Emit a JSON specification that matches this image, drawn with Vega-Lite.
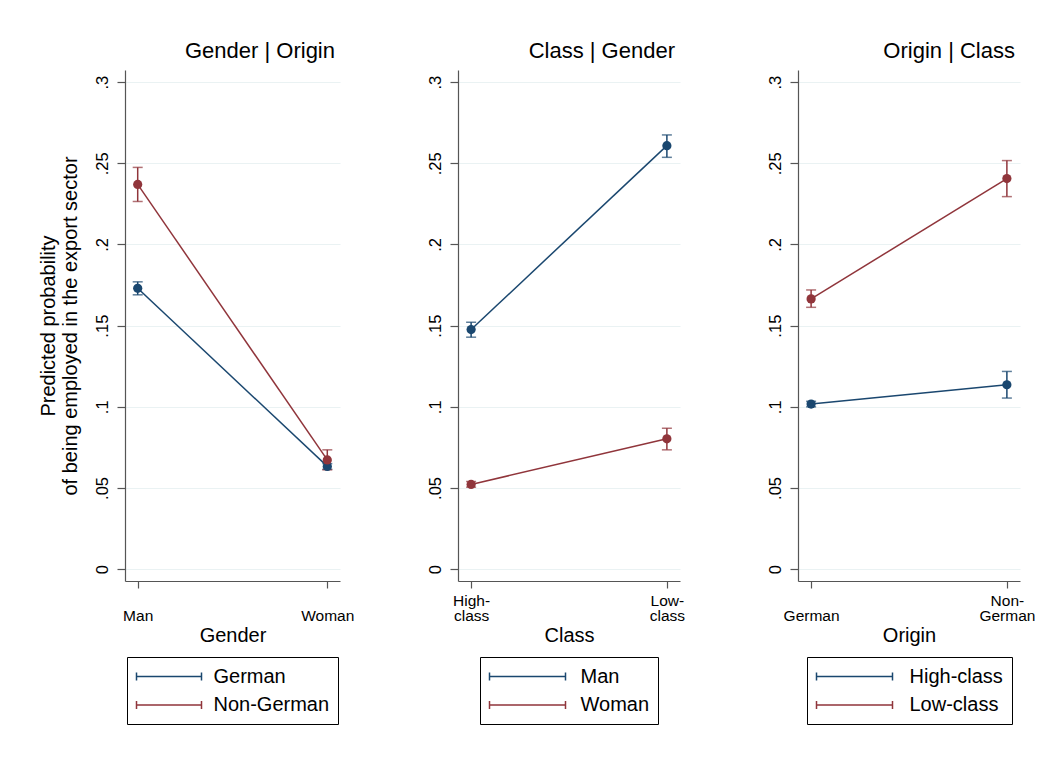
{
  "$schema": "https://vega.github.io/schema/vega-lite/v6.json",
  "background": "white",
  "padding": {"left": 38, "top": 40, "right": 8, "bottom": 8},
  "bounds": "flush",
  "spacing": 118,
  "datasets": {
    "p1": [
      {"x": "Man", "g": "German", "p": 0.173, "lo": 0.169, "hi": 0.177},
      {"x": "Woman", "g": "German", "p": 0.0633, "lo": 0.0615, "hi": 0.065},
      {"x": "Man", "g": "Non-German", "p": 0.237, "lo": 0.2265, "hi": 0.2475},
      {"x": "Woman", "g": "Non-German", "p": 0.0673, "lo": 0.0612, "hi": 0.0735}
    ],
    "p2": [
      {"x": "High-class", "g": "Man", "p": 0.1476, "lo": 0.1429, "hi": 0.1521},
      {"x": "Low-class", "g": "Man", "p": 0.2609, "lo": 0.2537, "hi": 0.2675},
      {"x": "High-class", "g": "Woman", "p": 0.0522, "lo": 0.0505, "hi": 0.054},
      {"x": "Low-class", "g": "Woman", "p": 0.0803, "lo": 0.0735, "hi": 0.0868}
    ],
    "p3": [
      {"x": "German", "g": "High-class", "p": 0.1017, "lo": 0.1, "hi": 0.1034},
      {"x": "Non-German", "g": "High-class", "p": 0.1136, "lo": 0.1054, "hi": 0.1218},
      {"x": "German", "g": "Low-class", "p": 0.1665, "lo": 0.1613, "hi": 0.172},
      {"x": "Non-German", "g": "Low-class", "p": 0.2406, "lo": 0.2295, "hi": 0.2517}
    ]
  },
  "hconcat": [
    {
      "width": 215,
      "height": 511,
      "title": "Gender | Origin",
      "data": {"name": "p1"},
      "encoding": {
        "x": {"field": "x", "type": "nominal", "sort": ["Man", "Woman"], "scale": {"type": "point", "padding": 0.067},
              "axis": {"title": "Gender", "labelExpr": "indexof(datum.label,'-')>0 ? [slice(datum.label,0,indexof(datum.label,'-')+1), slice(datum.label,indexof(datum.label,'-')+1)] : ['', datum.label]"}},
        "color": {"field": "g", "type": "nominal", "scale": {"domain": ["German", "Non-German"], "range": ["#1a476f", "#90353b"]}, "legend": null}
      },
      "layer": [
        {"mark": {"type": "line", "strokeWidth": 1.5},
         "encoding": {
           "y": {"field": "p", "type": "quantitative", "scale": {"domain": [-0.0073, 0.3075], "nice": false, "zero": false},
                 "axis": {"title": ["Predicted probability", "of being employed in the export sector"], "values": [0, 0.05, 0.1, 0.15, 0.2, 0.25, 0.3],
                          "labelExpr": "datum.value == 0 ? '0' : replace(format(datum.value, '.2~f'), '0.', '.')"}},
           "color": {"field": "g", "type": "nominal", "legend": {"symbolType": "M-1,-0.4V0.4M-1,0H5.5M5.5,-0.4V0.4", "labelOffset": 56}}
         }},
        {"mark": {"type": "rule", "strokeWidth": 1.5}, "encoding": {"y": {"field": "lo", "type": "quantitative"}, "y2": {"field": "hi"}}},
        {"mark": {"type": "tick", "size": 10, "thickness": 1.5}, "encoding": {"y": {"field": "lo", "type": "quantitative"}}},
        {"mark": {"type": "tick", "size": 10, "thickness": 1.5}, "encoding": {"y": {"field": "hi", "type": "quantitative"}}},
        {"mark": {"type": "point", "filled": true, "opacity": 1, "size": 85}, "encoding": {"y": {"field": "p", "type": "quantitative"}}}
      ]
    },
    {
      "width": 222,
      "height": 511,
      "title": "Class | Gender",
      "data": {"name": "p2"},
      "encoding": {
        "x": {"field": "x", "type": "nominal", "sort": ["High-class", "Low-class"], "scale": {"type": "point", "padding": 0.067},
              "axis": {"title": "Class", "labelExpr": "indexof(datum.label,'-')>0 ? [slice(datum.label,0,indexof(datum.label,'-')+1), slice(datum.label,indexof(datum.label,'-')+1)] : ['', datum.label]"}},
        "color": {"field": "g", "type": "nominal", "scale": {"domain": ["Man", "Woman"], "range": ["#1a476f", "#90353b"]}, "legend": null}
      },
      "layer": [
        {"mark": {"type": "line", "strokeWidth": 1.5},
         "encoding": {
           "y": {"field": "p", "type": "quantitative", "scale": {"domain": [-0.0073, 0.3075], "nice": false, "zero": false},
                 "axis": {"title": null, "values": [0, 0.05, 0.1, 0.15, 0.2, 0.25, 0.3],
                          "labelExpr": "datum.value == 0 ? '0' : replace(format(datum.value, '.2~f'), '0.', '.')"}},
           "color": {"field": "g", "type": "nominal", "legend": {"symbolType": "M-1,-0.4V0.4M-1,0H6.6M6.6,-0.4V0.4", "labelOffset": 70}}
         }},
        {"mark": {"type": "rule", "strokeWidth": 1.5}, "encoding": {"y": {"field": "lo", "type": "quantitative"}, "y2": {"field": "hi"}}},
        {"mark": {"type": "tick", "size": 10, "thickness": 1.5}, "encoding": {"y": {"field": "lo", "type": "quantitative"}}},
        {"mark": {"type": "tick", "size": 10, "thickness": 1.5}, "encoding": {"y": {"field": "hi", "type": "quantitative"}}},
        {"mark": {"type": "point", "filled": true, "opacity": 1, "size": 85}, "encoding": {"y": {"field": "p", "type": "quantitative"}}}
      ]
    },
    {
      "width": 222,
      "height": 511,
      "title": "Origin | Class",
      "data": {"name": "p3"},
      "encoding": {
        "x": {"field": "x", "type": "nominal", "sort": ["German", "Non-German"], "scale": {"type": "point", "padding": 0.067},
              "axis": {"title": "Origin", "labelExpr": "indexof(datum.label,'-')>0 ? [slice(datum.label,0,indexof(datum.label,'-')+1), slice(datum.label,indexof(datum.label,'-')+1)] : ['', datum.label]"}},
        "color": {"field": "g", "type": "nominal", "scale": {"domain": ["High-class", "Low-class"], "range": ["#1a476f", "#90353b"]}, "legend": null}
      },
      "layer": [
        {"mark": {"type": "line", "strokeWidth": 1.5},
         "encoding": {
           "y": {"field": "p", "type": "quantitative", "scale": {"domain": [-0.0073, 0.3075], "nice": false, "zero": false},
                 "axis": {"title": null, "values": [0, 0.05, 0.1, 0.15, 0.2, 0.25, 0.3],
                          "labelExpr": "datum.value == 0 ? '0' : replace(format(datum.value, '.2~f'), '0.', '.')"}},
           "color": {"field": "g", "type": "nominal", "legend": {"symbolType": "M-1,-0.4V0.4M-1,0H6.6M6.6,-0.4V0.4", "labelOffset": 72}}
         }},
        {"mark": {"type": "rule", "strokeWidth": 1.5}, "encoding": {"y": {"field": "lo", "type": "quantitative"}, "y2": {"field": "hi"}}},
        {"mark": {"type": "tick", "size": 10, "thickness": 1.5}, "encoding": {"y": {"field": "lo", "type": "quantitative"}}},
        {"mark": {"type": "tick", "size": 10, "thickness": 1.5}, "encoding": {"y": {"field": "hi", "type": "quantitative"}}},
        {"mark": {"type": "point", "filled": true, "opacity": 1, "size": 85}, "encoding": {"y": {"field": "p", "type": "quantitative"}}}
      ]
    }
  ],
  "resolve": {
    "scale": {"color": "independent", "x": "independent", "y": "independent"},
    "legend": {"color": "independent"},
    "axis": {"x": "independent", "y": "independent"}
  },
  "config": {
    "font": "Liberation Sans",
    "view": {"stroke": null},
    "axis": {
      "domainColor": "#555555", "tickColor": "#555555", "domainWidth": 1.2, "tickWidth": 1.2,
      "labelColor": "#000000", "titleColor": "#000000", "titleFontWeight": "normal",
      "labelFont": "Liberation Sans", "titleFont": "Liberation Sans", "labelFlush": false, "labelOverlap": false
    },
    "axisX": {
      "grid": false, "tickSize": 7, "labelPadding": 5, "labelFontSize": 15.5, "labelAngle": 0,
      "labelAlign": "center", "labelBaseline": "top", "labelLineHeight": 15.5,
      "titleFontSize": 20, "titlePadding": 1
    },
    "axisY": {
      "grid": true, "gridColor": "#eaf2f3", "gridWidth": 1.2, "tickSize": 8, "labelAngle": -90,
      "labelAlign": "center", "labelBaseline": "bottom", "labelPadding": 6.5, "labelFontSize": 16.5,
      "titleFontSize": 20, "titleLineHeight": 22, "titlePadding": 14
    },
    "legend": {
      "orient": "bottom", "direction": "vertical", "title": null,
      "strokeColor": "#000000", "fillColor": "#ffffff", "padding": 8.5, "offset": 12,
      "labelFontSize": 20, "labelFont": "Liberation Sans", "labelColor": "#000000",
      "rowPadding": 7.5, "symbolSize": 400, "symbolStrokeWidth": 1.5, "labelLimit": 300,
      "layout": {"bottom": {"anchor": "middle"}}
    },
    "title": {
      "anchor": "end", "frame": "group", "fontSize": 22, "fontWeight": "normal",
      "font": "Liberation Sans", "color": "#000000", "offset": 7, "baseline": "bottom", "dx": -5
    }
  }
}
